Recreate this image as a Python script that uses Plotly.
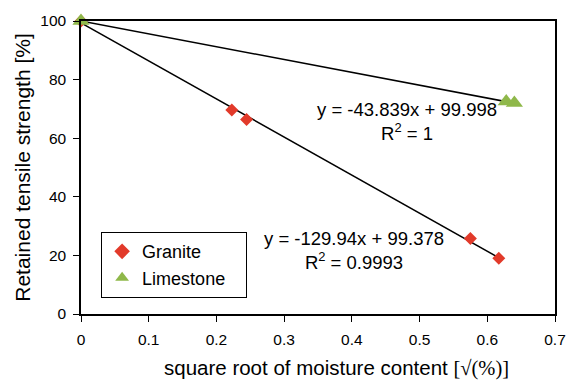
import plotly.graph_objects as go

granite_x = [0.0, 0.2227, 0.2445, 0.575, 0.617]
granite_y = [100.0, 69.6, 66.4, 25.8, 19.0]
lime_x = [0.0, 0.628, 0.640]
lime_y = [100.0, 72.5, 72.0]

g_slope, g_int = -129.94, 99.378
l_slope, l_int = -43.839, 99.998

fig = go.Figure()
gx = [0.0, max(granite_x)]
fig.add_trace(go.Scatter(x=gx, y=[g_int + g_slope * v for v in gx], mode="lines",
                         line=dict(color="black", width=1.5), showlegend=False, hoverinfo="skip"))
lx = [0.0, max(lime_x)]
fig.add_trace(go.Scatter(x=lx, y=[l_int + l_slope * v for v in lx], mode="lines",
                         line=dict(color="black", width=1.5), showlegend=False, hoverinfo="skip"))

fig.add_trace(go.Scatter(x=granite_x, y=granite_y, mode="markers", name="Granite",
                         cliponaxis=False,
                         marker=dict(symbol="diamond", color="#e23a2a", size=10)))
fig.add_trace(go.Scatter(x=lime_x, y=lime_y, mode="markers", name="Limestone\u00a0\u00a0\u00a0",
                         cliponaxis=False,
                         marker=dict(symbol="triangle-up", color="#8fb84a", size=15)))

font = "Liberation Sans, Arial, sans-serif"
fig.update_layout(
    width=578, height=382,
    margin=dict(l=81, r=16, t=13, b=68),
    plot_bgcolor="white", paper_bgcolor="white",
    font=dict(family=font, color="black", size=16),
    legend=dict(x=0.042, y=0.28, xanchor="left", yanchor="top",
                bordercolor="black", borderwidth=1.2, bgcolor="white",
                font=dict(size=18), itemsizing="constant", tracegroupgap=6,
                itemwidth=30),
    xaxis=dict(range=[0, 0.7], dtick=0.1, showgrid=False, zeroline=False,
               showline=True, linecolor="black", linewidth=1.5, mirror=True,
               ticks="outside", ticklen=6, tickcolor="black", tickformat=".1~f",
               tickfont=dict(size=15.5), ticklabelstandoff=5),
    yaxis=dict(range=[0, 100], dtick=20, showgrid=False, zeroline=False,
               showline=True, linecolor="black", linewidth=1.5, mirror=True,
               ticks="outside", ticklen=6, tickcolor="black",
               tickfont=dict(size=15.5), ticklabelstandoff=4,
               title=dict(text="Retained tensile strength [%]",
                          font=dict(size=21), standoff=4)),
)
# x-axis title (offset to the right as in the original)
fig.add_annotation(x=0.54, y=0, xref="paper", yref="paper", yshift=-54,
                   showarrow=False, xanchor="center", yanchor="middle",
                   text="square root of moisture content "
                        "<span style=\"font-family:'Liberation Serif', 'Times New Roman', serif\">[√(%)]</span>",
                   font=dict(size=20.5))
fig.add_annotation(x=0.4815, y=65.6, xref="x", yref="y", showarrow=False,
                   text="y = -43.839x + 99.998<br>R<sup>2</sup> = 1",
                   font=dict(size=18.5), align="center")
fig.add_annotation(x=0.403, y=21.6, xref="x", yref="y", showarrow=False,
                   text="y = -129.94x + 99.378<br>R<sup>2</sup> = 0.9993",
                   font=dict(size=18.5), align="center")

fig.write_html("out.html")
